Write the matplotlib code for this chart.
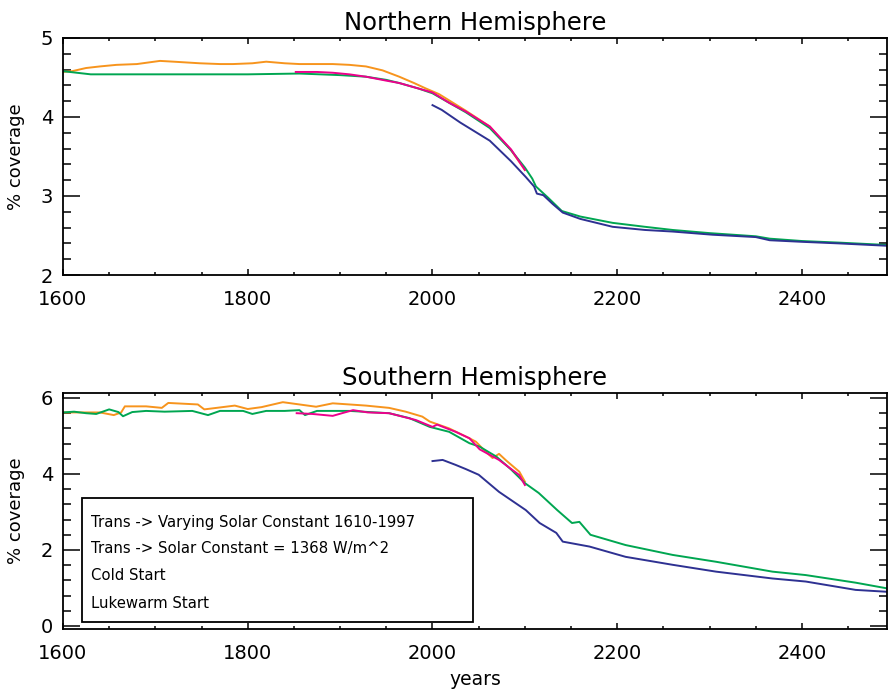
import matplotlib
matplotlib.use("Agg")
from matplotlib import pyplot as plt
from matplotlib.patches import Rectangle
from matplotlib.ticker import MultipleLocator

# ---- data ----
# Northern Hemisphere
n_vary_yr = [1600, 1610, 1625, 1640, 1658, 1680, 1705, 1720, 1748, 1770, 1784, 1805, 1820,
             1840, 1856, 1875, 1892, 1910, 1928, 1946, 1964, 1980, 1993, 2007, 2036, 2062,
             2085, 2100]
n_vary = [4.57, 4.58, 4.62, 4.64, 4.66, 4.67, 4.71, 4.70, 4.68, 4.67, 4.67, 4.68, 4.70,
          4.68, 4.67, 4.67, 4.67, 4.66, 4.64, 4.59, 4.51, 4.43, 4.36, 4.29, 4.08, 3.88,
          3.58, 3.33]

n_const_yr = [1852, 1875, 1892, 1910, 1928, 1950, 1964, 1985, 2000, 2018, 2036, 2062, 2085, 2100]
n_const = [4.57, 4.57, 4.56, 4.54, 4.51, 4.46, 4.43, 4.36, 4.31, 4.18, 4.07, 3.88, 3.59, 3.33]

n_cold_yr = [2000, 2010, 2030, 2062, 2085, 2101, 2110, 2113, 2120, 2130, 2141, 2160, 2195,
             2230, 2260, 2303, 2350, 2365, 2400, 2440, 2492]
n_cold = [4.15, 4.09, 3.93, 3.70, 3.44, 3.24, 3.12, 3.03, 3.01, 2.90, 2.79, 2.71, 2.61,
          2.57, 2.55, 2.51, 2.48, 2.44, 2.42, 2.40, 2.37]

n_luke_yr = [1600, 1615, 1630, 1700, 1800, 1856, 1900, 1928, 1950, 1964, 1985, 2000, 2018,
             2036, 2062, 2085, 2100, 2108, 2112, 2125, 2140, 2160, 2195, 2230, 2260, 2300,
             2350, 2365, 2400, 2440, 2492]
n_luke = [4.58, 4.56, 4.54, 4.54, 4.54, 4.55, 4.53, 4.51, 4.47, 4.43, 4.36, 4.30, 4.18,
          4.06, 3.86, 3.58, 3.36, 3.22, 3.12, 2.98, 2.81, 2.74, 2.66, 2.61, 2.57, 2.53,
          2.49, 2.46, 2.43, 2.41, 2.38]

# Southern Hemisphere
s_vary_yr = [1600, 1640, 1655, 1663, 1667, 1690, 1707, 1714, 1746, 1753, 1786, 1800, 1815,
             1838, 1874, 1892, 1928, 1953, 1971, 1989, 1997, 2018, 2040, 2047, 2055, 2065,
             2072, 2080, 2094, 2100]
s_vary = [5.62, 5.62, 5.55, 5.62, 5.78, 5.78, 5.74, 5.87, 5.83, 5.70, 5.80, 5.71, 5.76,
          5.89, 5.77, 5.86, 5.80, 5.74, 5.64, 5.51, 5.38, 5.20, 4.94, 4.85, 4.65, 4.42,
          4.53, 4.35, 4.06, 3.80]

s_const_yr = [1853, 1870, 1892, 1905, 1914, 1930, 1953, 1982, 2000, 2005, 2025, 2040, 2051,
              2072, 2094, 2100]
s_const = [5.60, 5.58, 5.53, 5.62, 5.68, 5.62, 5.60, 5.42, 5.24, 5.30, 5.11, 4.94, 4.65,
           4.37, 3.97, 3.71]

s_cold_yr = [2000, 2011, 2025, 2036, 2050, 2072, 2101, 2116, 2134, 2141, 2170, 2209, 2260,
             2307, 2368, 2404, 2458, 2492]
s_cold = [4.34, 4.37, 4.24, 4.13, 3.98, 3.53, 3.05, 2.71, 2.45, 2.22, 2.09, 1.82, 1.61,
          1.43, 1.25, 1.17, 0.95, 0.90]

s_luke_yr = [1600, 1612, 1625, 1636, 1650, 1660, 1665, 1675, 1690, 1710, 1740, 1757, 1770,
             1795, 1805, 1820, 1840, 1856, 1862, 1875, 1910, 1953, 1975, 1997, 2018, 2040,
             2051, 2069, 2085, 2100, 2115, 2135, 2151, 2159, 2171, 2209, 2260, 2307, 2368,
             2404, 2458, 2492]
s_luke = [5.62, 5.64, 5.60, 5.58, 5.70, 5.63, 5.52, 5.63, 5.66, 5.64, 5.66, 5.55, 5.66,
          5.66, 5.58, 5.66, 5.66, 5.68, 5.55, 5.66, 5.66, 5.60, 5.47, 5.24, 5.11, 4.81,
          4.72, 4.46, 4.12, 3.76, 3.50, 3.05, 2.71, 2.74, 2.40, 2.13, 1.87, 1.69, 1.43,
          1.34, 1.14, 0.99]

legend_labels = ["Trans -> Varying Solar Constant 1610-1997",
                 "Trans -> Solar Constant = 1368 W/m^2",
                 "Cold Start",
                 "Lukewarm Start"]

colors = dict(vary="#f7941d", const="#ec008c", cold="#2e3192", luke="#00a651")


def style_axes(ax, ymajor, yminor, ylim):
    ax.set_xlim(1600, 2492)
    ax.set_ylim(*ylim)
    ax.xaxis.set_major_locator(MultipleLocator(200))
    ax.xaxis.set_minor_locator(MultipleLocator(50))
    ax.yaxis.set_major_locator(MultipleLocator(ymajor))
    ax.yaxis.set_minor_locator(MultipleLocator(yminor))
    ax.tick_params(which="both", direction="in", top=True, right=True,
                   width=1.1, labelsize=14, color="black")
    ax.tick_params(axis="x", which="major", length=4.5, pad=11)
    ax.tick_params(axis="x", which="minor", length=2.5)
    ax.tick_params(axis="y", which="major", length=12, pad=7)
    ax.tick_params(axis="y", which="minor", length=6)
    for s in ax.spines.values():
        s.set_linewidth(1.3)
    ax.set_ylabel("% coverage", fontsize=13)
    ax.yaxis.set_label_coords(-0.046, 0.5)


fig = plt.figure(figsize=(8.88, 6.92), dpi=100)
ax1 = fig.add_axes([0.0709, 0.6026, 0.928, 0.3425])
ax2 = fig.add_axes([0.0709, 0.0910, 0.928, 0.3410])

lw = 1.4
ax1.plot(n_vary_yr, n_vary, color=colors["vary"], lw=lw)
ax1.plot(n_luke_yr, n_luke, color=colors["luke"], lw=lw)
ax1.plot(n_const_yr, n_const, color=colors["const"], lw=lw)
ax1.plot(n_cold_yr, n_cold, color=colors["cold"], lw=lw)

ax2.plot(s_vary_yr, s_vary, color=colors["vary"], lw=lw)
ax2.plot(s_luke_yr, s_luke, color=colors["luke"], lw=lw)
ax2.plot(s_const_yr, s_const, color=colors["const"], lw=lw)
ax2.plot(s_cold_yr, s_cold, color=colors["cold"], lw=lw)

style_axes(ax1, 1, 0.2, (2, 5))
style_axes(ax2, 2, 0.4, (-0.08, 6.13))

ax1.set_title("Northern Hemisphere", fontsize=17.5, pad=6)
ax2.set_title("Southern Hemisphere", fontsize=17.5, pad=6)
ax2.set_xlabel("years", fontsize=13.5, labelpad=5)

# text-only legend box
ax2.add_patch(Rectangle((0.023, 0.03), 0.474, 0.525, transform=ax2.transAxes,
                        fill=False, edgecolor="black", lw=1.3, zorder=5))
for lab, yy in zip(legend_labels, [0.453, 0.343, 0.225, 0.110]):
    ax2.text(0.034, yy, lab, transform=ax2.transAxes, fontsize=10.7,
             va="center", ha="left", zorder=6)

fig.savefig("out.png", dpi=100)
